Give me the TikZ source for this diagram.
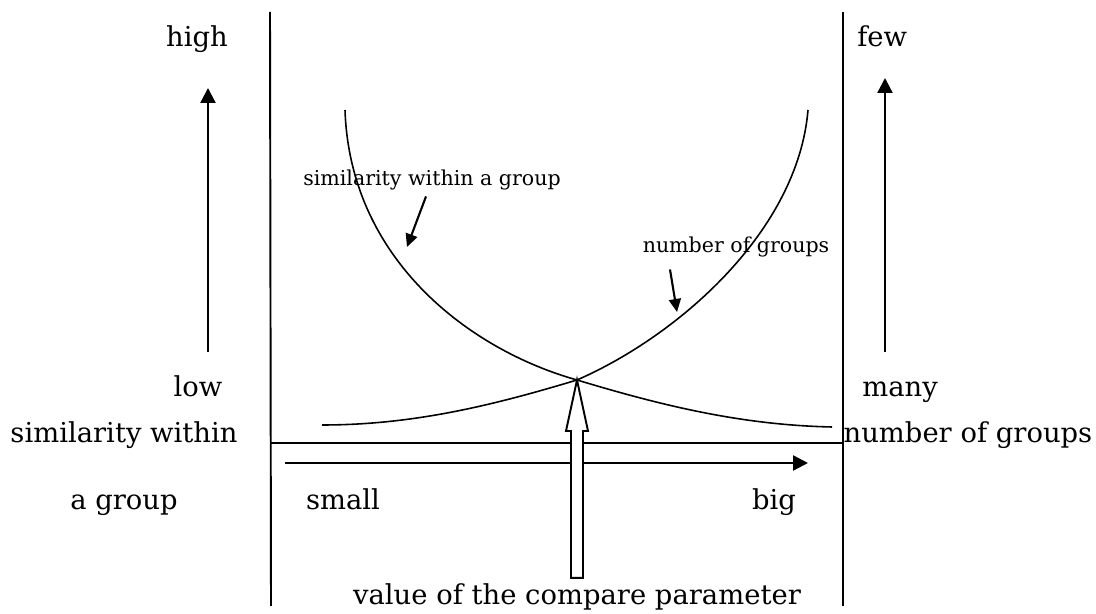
\documentclass[tikz,border=0pt]{standalone}
\usepackage{fontspec}
\setmainfont{DejaVu Serif}
\usetikzlibrary{arrows.meta,calc}
\tikzset{
  lbl/.style={font=\fontsize{15.6}{18}\selectfont,inner sep=0pt},
  note/.style={font=\fontsize{11.7}{14}\selectfont,inner sep=0pt},
  ax/.style={line width=1.1pt},
  crv/.style={line width=0.9pt},
  fl/.style={-{Triangle[length=3mm,width=3mm]},line width=1.3pt},
  sfl/.style={-{Triangle[length=2.6mm,width=2.4mm]},line width=1.2pt},
}
\begin{document}
\begin{tikzpicture}[x=0.02cm,y=-0.02cm]
\useasboundingbox (0,0) rectangle (1096,614);
% axes
\coordinate (lt) at (270,12);  \coordinate (lb) at (271,606);
\coordinate (rt) at (843,12);  \coordinate (rb) at (843,606);
\draw[ax] (lt) -- (lb);
\draw[ax] (rt) -- (rb);
\draw[ax] (lt |- 0,443) coordinate (hl) -- (rt |- 0,443) coordinate (hr);
\coordinate (xa) at (285,463); \coordinate (xb) at (808,463);
\draw[fl] (xa) -- (xb);
% left scale
\node[lbl,anchor=base] (high) at (197,47) {high};
\node[lbl,anchor=base] (low)  at (198,397) {low};
\node[lbl,anchor=base] (simA) at (124,443) {similarity within};
\node[lbl,anchor=base] (simB) at (124,510) {a group};
\coordinate (la) at (208,352); \coordinate (lz) at (208,88);
\draw[fl] (la) -- (lz);
% right scale
\node[lbl,anchor=base west] (few)  at (857,47) {few};
\node[lbl,anchor=base west] (many) at (862,397) {many};
\node[lbl,anchor=base] (num) at (968,443) {number of groups};
\coordinate (ra) at (885,352); \coordinate (rz) at (885,78);
\draw[fl] (ra) -- (rz);
% x scale
\node[lbl,anchor=base] (small) at (343,510) {small};
\node[lbl,anchor=base] (big)   at (774,510) {big};
% curves
\coordinate (cross) at (577,380);
\draw[crv] (345,110) .. controls (350,260) and (470,350) .. (cross)
           .. controls (660,405) and (740,425) .. (832,427);
\draw[crv] (808,110) .. controls (798,230) and (680,335) .. (cross)
           .. controls (494,405) and (414,425) .. (322,425);
% curve labels
\node[note] (sg) at (432,180) {similarity within a group};
\node[note] (ng) at (736,247) {number of groups};
\coordinate (sgt) at (407,247); \coordinate (ngt) at (677,312);
\draw[sfl] (sg.south) ++(-6,6) -- (sgt);
\draw[sfl] (ng.south) ++(-66,12) -- (ngt);
% compare parameter
\node[lbl,anchor=base] (val) at (577,605) {value of the compare parameter};
\draw[line width=1.1pt,fill=white]
  (cross) -- ++(11,51) -- ++(-5,0) |- ($(val.north)+(6,-6)$)
  -- ++(-12,0) |- ($(cross)+(-11,51)$) -- cycle;
\end{tikzpicture}
\end{document}
